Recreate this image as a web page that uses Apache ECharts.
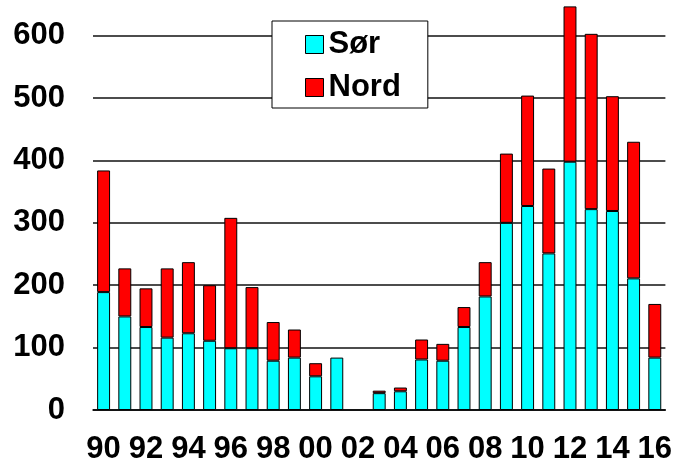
<!DOCTYPE html>
<html>
<head>
<meta charset="utf-8">
<script src="https://cdn.jsdelivr.net/npm/echarts@6/dist/echarts.min.js"></script>
<style>
  html, body { margin: 0; padding: 0; background: #fff; }
  #chart { width: 675px; height: 465px; }
</style>
</head>
<body>
<div id="chart"></div>
<script>
const years = ['90', '91', '92', '93', '94', '95', '96', '97', '98', '99',
  '00', '01', '02', '03', '04', '05', '06', '07', '08', '09',
  '10', '11', '12', '13', '14', '15', '16'];

// Sør (bottom, cyan)
const sor = [189, 150, 133, 116, 123, 111, 99, 99, 79, 84,
  54, 84, null, 27, 30, 81, 79, 133, 182, 300,
  327, 251, 398, 322, 319, 211, 84];

// Nord (top, red)
const nord = [195, 77, 62, 111, 114, 89, 209, 98, 62, 45,
  21, null, null, 4, 6, 32, 27, 32, 55, 111,
  177, 136, 249, 281, 184, 219, 86];

const yTicks = [0, 100, 200, 300, 400, 500, 600];

const font = 'Liberation Sans, Arial, sans-serif';
const chart = echarts.init(document.getElementById('chart'));

const barStyle = (color) => ({
  color,
  borderColor: '#000',
  borderWidth: 1,
});

chart.setOption({
  animation: false,
  backgroundColor: '#fff',
  grid: {
    left: 93,
    right: 7.5,
    top: 35.7,
    bottom: 465 - 412.7,
  },
  legend: {
    orient: 'vertical',
    left: 272,
    top: 21,
    padding: [8, 27, 5, 33],
    itemGap: 12,
    itemWidth: 18,
    itemHeight: 18,
    backgroundColor: '#fff',
    borderColor: '#000',
    borderWidth: 1,
    icon: 'rect',
    itemStyle: { borderColor: '#000', borderWidth: 1 },
    textStyle: {
      fontFamily: font,
      fontWeight: 'bold',
      fontSize: 31,
      lineHeight: 31,
      color: '#000',
    },
    data: ['Sør', 'Nord'],
  },
  xAxis: {
    type: 'category',
    data: years,
    axisLine: { show: true, lineStyle: { color: '#000', width: 1.5 } },
    axisTick: { show: false },
    axisLabel: {
      interval: 1,
      margin: 24,
      fontFamily: font,
      fontWeight: 'bold',
      fontSize: 31,
      color: '#000',
    },
  },
  yAxis: {
    type: 'value',
    min: yTicks[0],
    max: yTicks[yTicks.length - 1],
    interval: 100,
    axisLine: { show: false },
    axisTick: { show: false },
    splitLine: { show: true, lineStyle: { color: '#111', width: 1.5 } },
    axisLabel: {
      margin: 28,
      fontFamily: font,
      fontWeight: 'bold',
      fontSize: 31,
      color: '#000',
    },
  },
  series: [
    {
      name: 'Sør',
      type: 'bar',
      stack: 'total',
      barCategoryGap: '39%',
      clip: false,
      itemStyle: barStyle('#00ffff'),
      data: sor,
    },
    {
      name: 'Nord',
      type: 'bar',
      stack: 'total',
      barCategoryGap: '39%',
      clip: false,
      itemStyle: barStyle('#ff0000'),
      data: nord,
    },
  ],
});
</script>
</body>
</html>
